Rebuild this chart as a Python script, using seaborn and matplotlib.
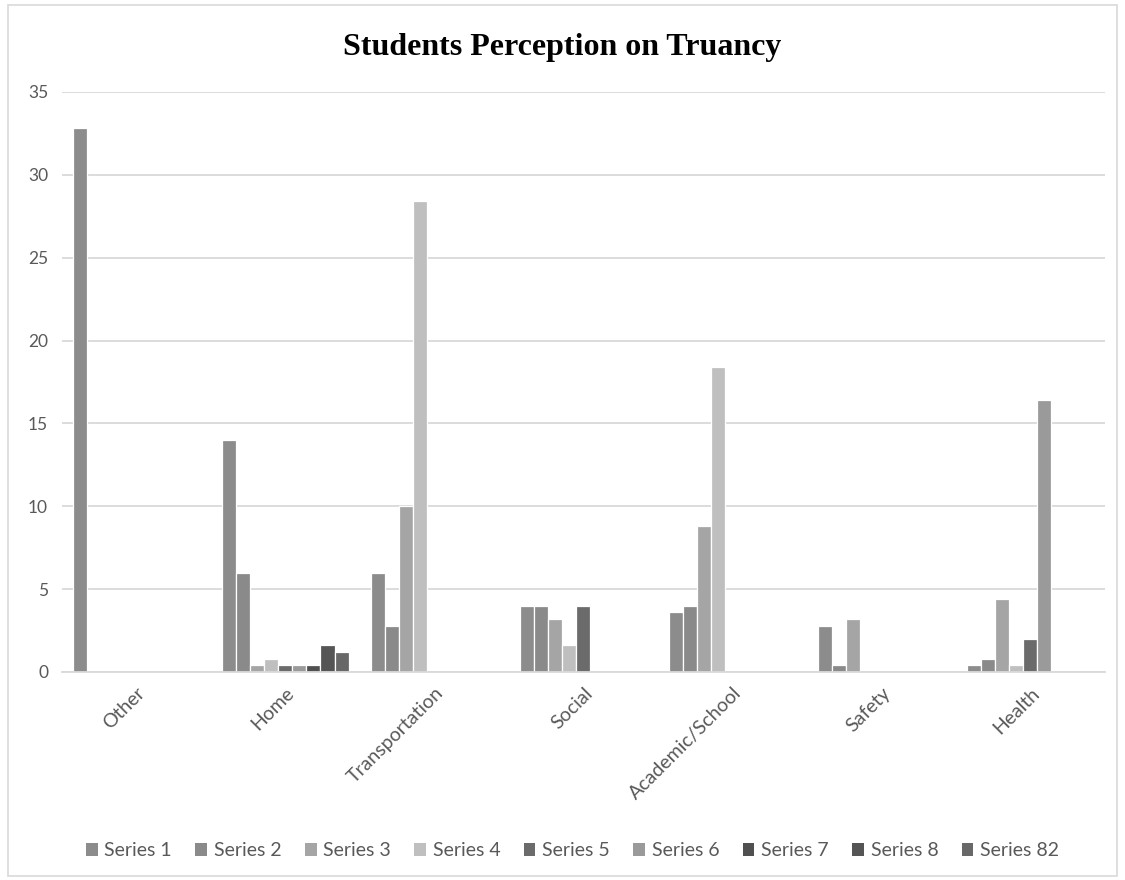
import matplotlib
matplotlib.use("Agg")
import matplotlib.pyplot as plt
import matplotlib.patches as mpatches
import seaborn as sns
import pandas as pd

# Category axis and series values
categories = ["Other", "Home", "Transportation", "Social",
              "Academic/School", "Safety", "Health"]
series_names = ["Series 1", "Series 2", "Series 3", "Series 4", "Series 5",
                "Series 6", "Series 7", "Series 8", "Series 82"]

series_1 = [32.8, 14.0, 6.0, 4.0, 3.6, 2.8, 0.4]
series_2 = [0.0, 6.0, 2.8, 4.0, 4.0, 0.4, 0.8]
series_3 = [0.0, 0.4, 10.0, 3.2, 8.8, 3.2, 4.4]
series_4 = [0.0, 0.8, 28.4, 1.6, 18.4, 0.0, 0.4]
series_5 = [0.0, 0.4, 0.0, 4.0, 0.0, 0.0, 2.0]
series_6 = [0.0, 0.4, 0.0, 0.0, 0.0, 0.0, 16.4]
series_7 = [0.0, 0.4, 0.0, 0.0, 0.0, 0.0, 0.0]
series_8 = [0.0, 1.6, 0.0, 0.0, 0.0, 0.0, 0.0]
series_82 = [0.0, 1.2, 0.0, 0.0, 0.0, 0.0, 0.0]

y_ticks = [0, 5, 10, 15, 20, 25, 30, 35]

all_series = [series_1, series_2, series_3, series_4, series_5,
              series_6, series_7, series_8, series_82]

palette = ["#8c8c8c", "#8a8a8a", "#a5a5a5", "#bfbfbf", "#6b6b6b",
           "#9a9a9a", "#505050", "#555555", "#686868"]

rows = []
for name, vals in zip(series_names, all_series):
    for cat, v in zip(categories, vals):
        rows.append({"category": cat, "series": name, "value": v})
df = pd.DataFrame(rows)
df_drawn = df[df["value"] > 0]

sns.set_theme(style="white")
plt.rcParams["font.family"] = ["Lato", "DejaVu Sans"]

fig = plt.figure(figsize=(11.25, 8.8), dpi=100)
ax = fig.add_axes([0.0551, 0.2364, 0.9271, 0.6591])

sns.barplot(data=df_drawn, x="category", y="value", hue="series",
            order=categories, hue_order=series_names, palette=palette,
            width=0.846, edgecolor="white", linewidth=0.9,
            errorbar=None, legend=False, ax=ax)

ax.set_ylim(0, 35)
ax.set_xlim(-0.5, len(categories) - 0.5)
ax.set_yticks(y_ticks)
ax.set_yticklabels([str(t) for t in y_ticks], fontsize=12.5, color="#595959")
ax.yaxis.grid(True, color="#d9d9d9", linewidth=1.3)
ax.set_axisbelow(True)
for side in ["top", "right", "left"]:
    ax.spines[side].set_visible(False)
ax.spines["bottom"].set_color("#d9d9d9")
ax.spines["bottom"].set_linewidth(1.3)
ax.tick_params(axis="both", length=0)
ax.tick_params(axis="y", pad=10)
ax.tick_params(axis="x", pad=9)
ax.set_xticks(range(len(categories)))
ax.set_xticklabels(categories, rotation=45, ha="right",
                   rotation_mode="anchor", fontsize=14, color="#595959")
ax.set_xlabel("")
ax.set_ylabel("")

fig.text(0.5, 0.946, "Students Perception on Truancy",
         ha="center", va="center", fontsize=23, fontweight="bold",
         family="Liberation Serif", color="black")

handles = [mpatches.Patch(facecolor=c, edgecolor="none", label=n)
           for c, n in zip(palette, series_names)]
fig.legend(handles=handles, loc="center", bbox_to_anchor=(0.509, 0.033),
           ncol=9, frameon=False, fontsize=14, handlelength=0.6,
           handleheight=0.6, handletextpad=0.35, columnspacing=1.2,
           labelcolor="#595959")

# Chart area border
fig.patches.append(mpatches.Rectangle((0.007, 0.004), 0.986, 0.99,
                                      transform=fig.transFigure,
                                      fill=False, edgecolor="#d9d9d9",
                                      linewidth=1.2))

fig.savefig("out.png", dpi=100, facecolor="white")
